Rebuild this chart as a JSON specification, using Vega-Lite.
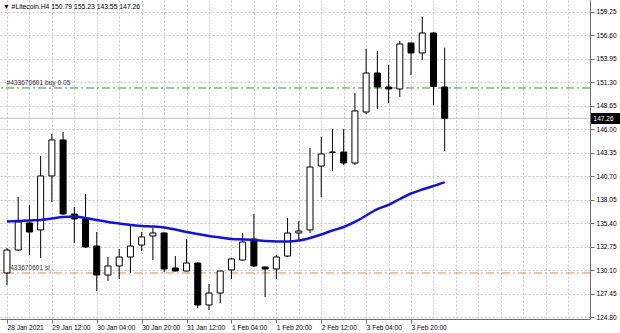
{
  "$schema": "https://vega.github.io/schema/vega-lite/v6.json",
  "width": 590,
  "height": 319,
  "autosize": "none",
  "padding": {"left": 0, "top": 0, "right": 30, "bottom": 14},
  "background": "white",
  "view": {"stroke": null},
  "title": {"text": "▼  #Litecoin.H4  150.79 155.23 143.55 147.26", "anchor": "start", "frame": "group", "offset": -11, "dx": 3, "font": "Liberation Sans", "fontSize": 6.8, "fontWeight": "normal", "color": "#000000"},
  "config": {
    "font": "Liberation Sans",
    "axis": {"labelFont": "Liberation Sans", "labelFontSize": 6.6, "labelColor": "#000000", "domainColor": "#6e6e6e", "tickColor": "#6e6e6e", "gridColor": "#c4c4c4", "gridDash": [2, 2], "gridWidth": 1, "title": null, "labelOverlap": false}
  },
  "datasets": {
    "candles": [
      {"t": "2021-01-28T20:00", "o": 129.82, "h": 132.64, "l": 128.46, "c": 132.41, "ma": 135.62},
      {"t": "2021-01-29T00:00", "o": 132.41, "h": 138.39, "l": 132.30, "c": 135.57, "ma": 135.68},
      {"t": "2021-01-29T04:00", "o": 135.46, "h": 137.49, "l": 131.85, "c": 134.44, "ma": 135.74},
      {"t": "2021-01-29T08:00", "o": 134.67, "h": 143.01, "l": 131.51, "c": 140.76, "ma": 135.79},
      {"t": "2021-01-29T12:00", "o": 140.76, "h": 145.49, "l": 137.82, "c": 144.82, "ma": 135.96},
      {"t": "2021-01-29T16:00", "o": 144.82, "h": 145.72, "l": 136.36, "c": 136.47, "ma": 136.13},
      {"t": "2021-01-29T20:00", "o": 136.47, "h": 137.26, "l": 133.20, "c": 135.91, "ma": 136.19},
      {"t": "2021-01-30T00:00", "o": 135.91, "h": 138.73, "l": 132.64, "c": 132.75, "ma": 136.02},
      {"t": "2021-01-30T04:00", "o": 132.86, "h": 134.44, "l": 127.79, "c": 129.59, "ma": 135.79},
      {"t": "2021-01-30T08:00", "o": 129.59, "h": 131.62, "l": 128.92, "c": 130.61, "ma": 135.57},
      {"t": "2021-01-30T12:00", "o": 130.61, "h": 132.52, "l": 129.14, "c": 131.62, "ma": 135.40},
      {"t": "2021-01-30T16:00", "o": 131.62, "h": 135.34, "l": 129.82, "c": 132.86, "ma": 135.23},
      {"t": "2021-01-30T20:00", "o": 132.97, "h": 134.44, "l": 132.30, "c": 133.88, "ma": 135.12},
      {"t": "2021-01-31T00:00", "o": 133.99, "h": 134.89, "l": 131.28, "c": 134.33, "ma": 135.06},
      {"t": "2021-01-31T04:00", "o": 134.33, "h": 134.40, "l": 129.93, "c": 130.27, "ma": 134.95},
      {"t": "2021-01-31T08:00", "o": 130.38, "h": 131.73, "l": 130.00, "c": 130.04, "ma": 134.72},
      {"t": "2021-01-31T12:00", "o": 130.04, "h": 133.65, "l": 129.98, "c": 130.94, "ma": 134.44},
      {"t": "2021-01-31T16:00", "o": 130.94, "h": 130.98, "l": 125.87, "c": 126.21, "ma": 134.22},
      {"t": "2021-01-31T20:00", "o": 126.21, "h": 128.58, "l": 125.64, "c": 127.56, "ma": 133.99},
      {"t": "2021-02-01T00:00", "o": 127.56, "h": 130.10, "l": 126.43, "c": 130.04, "ma": 133.82},
      {"t": "2021-02-01T04:00", "o": 130.16, "h": 131.50, "l": 129.14, "c": 131.40, "ma": 133.65},
      {"t": "2021-02-01T08:00", "o": 131.28, "h": 134.33, "l": 131.20, "c": 133.31, "ma": 133.60},
      {"t": "2021-02-01T12:00", "o": 133.65, "h": 136.47, "l": 130.50, "c": 130.61, "ma": 133.54},
      {"t": "2021-02-01T16:00", "o": 130.49, "h": 130.55, "l": 127.11, "c": 130.27, "ma": 133.43},
      {"t": "2021-02-01T20:00", "o": 130.27, "h": 131.85, "l": 129.14, "c": 131.62, "ma": 133.37},
      {"t": "2021-02-02T00:00", "o": 131.73, "h": 136.02, "l": 131.62, "c": 134.33, "ma": 133.37},
      {"t": "2021-02-02T04:00", "o": 134.33, "h": 135.68, "l": 133.54, "c": 134.55, "ma": 133.48},
      {"t": "2021-02-02T08:00", "o": 134.67, "h": 143.91, "l": 134.33, "c": 141.77, "ma": 133.77},
      {"t": "2021-02-02T12:00", "o": 141.88, "h": 145.15, "l": 138.39, "c": 143.24, "ma": 134.16},
      {"t": "2021-02-02T16:00", "o": 143.46, "h": 146.06, "l": 141.32, "c": 143.41, "ma": 134.61},
      {"t": "2021-02-02T20:00", "o": 143.46, "h": 146.06, "l": 142.00, "c": 142.22, "ma": 135.00},
      {"t": "2021-02-03T00:00", "o": 142.22, "h": 150.12, "l": 142.00, "c": 148.09, "ma": 135.57},
      {"t": "2021-02-03T04:00", "o": 147.97, "h": 155.08, "l": 147.75, "c": 152.37, "ma": 136.30},
      {"t": "2021-02-03T08:00", "o": 152.37, "h": 154.85, "l": 148.31, "c": 150.79, "ma": 137.03},
      {"t": "2021-02-03T12:00", "o": 150.79, "h": 153.27, "l": 148.99, "c": 150.57, "ma": 137.49},
      {"t": "2021-02-03T16:00", "o": 150.57, "h": 155.98, "l": 149.66, "c": 155.64, "ma": 138.16},
      {"t": "2021-02-03T20:00", "o": 155.75, "h": 155.80, "l": 152.15, "c": 154.63, "ma": 138.78},
      {"t": "2021-02-04T00:00", "o": 154.63, "h": 158.69, "l": 153.84, "c": 156.88, "ma": 139.23},
      {"t": "2021-02-04T04:00", "o": 156.88, "h": 156.95, "l": 148.76, "c": 150.85, "ma": 139.62},
      {"t": "2021-02-04T08:00", "o": 150.79, "h": 155.23, "l": 143.55, "c": 147.26, "ma": 140.07}
    ],
    "levels": [
      {"label": "#433670601 buy 0.05", "price": 150.68, "kind": "buy"},
      {"label": "#433670601 sl", "price": 129.82, "kind": "sl"}
    ],
    "bid": [{"price": 147.26, "label": "147.26"}]
  },
  "data": {"name": "candles"},
  "encoding": {
    "x": {"field": "t", "type": "temporal",
      "scale": {"domain": [{"year": 2021, "month": 1, "date": 28, "hours": 19, "minutes": 18}, {"year": 2021, "month": 2, "date": 6, "hours": 10, "minutes": 0}]}
    }
  },
  "layer": [
    {
      "data": {"name": "bid"},
      "mark": {"type": "rule", "color": "#c0c0c0", "strokeWidth": 1},
      "encoding": {"x": null, "y": {"field": "price", "type": "quantitative"}}
    },
    {
      "data": {"name": "levels"},
      "mark": {"type": "rule", "strokeWidth": 1, "strokeDash": [8, 3, 2, 3]},
      "encoding": {
        "x": null,
        "y": {"field": "price", "type": "quantitative"},
        "color": {"field": "kind", "type": "nominal", "scale": {"domain": ["buy", "sl"], "range": ["#3c8f3c", "#e0884c"]}, "legend": null}
      }
    },
    {
      "mark": {"type": "rule", "color": "#000000", "strokeWidth": 1, "clip": true},
      "encoding": {
        "y": {"field": "l", "type": "quantitative"},
        "y2": {"field": "h"}
      }
    },
    {
      "mark": {"type": "bar", "size": 6, "stroke": "#000000", "strokeWidth": 1, "clip": true},
      "encoding": {
        "y": {"field": "o", "type": "quantitative",
          "scale": {"domain": [124.63, 160.60], "nice": false, "zero": false},
          "axis": {
            "orient": "right",
            "tickCount": 200,
            "values": [124.80, 127.45, 129.82, 130.10, 132.75, 135.40, 138.05, 140.70, 143.35, 146.00, 147.26, 148.65, 150.68, 151.30, 153.95, 156.60, 159.25],
            "labelExpr": "datum.value == 150.68 ? '#433670601 buy 0.05' : (datum.value == 129.82 ? '#433670601 sl' : format(datum.value, '.2f'))",
            "tickSize": {"condition": [{"test": "datum.value == 147.26", "value": 30}, {"test": "datum.value == 150.68 || datum.value == 129.82", "value": 0}], "value": 4},
            "tickWidth": {"condition": {"test": "datum.value == 147.26", "value": 11}, "value": 1},
            "tickColor": {"condition": {"test": "datum.value == 147.26", "value": "#000000"}, "value": "#6e6e6e"},
            "tickOpacity": {"condition": {"test": "datum.value == 150.68 || datum.value == 129.82", "value": 0}, "value": 1},
            "gridOpacity": {"condition": {"test": "datum.value == 147.26 || datum.value == 150.68 || datum.value == 129.82", "value": 0}, "value": 1},
            "labelColor": {"condition": [{"test": "datum.value == 147.26", "value": "#ffffff"}, {"test": "datum.value == 150.68 || datum.value == 129.82", "value": "#333333"}], "value": "#000000"},
            "labelPadding": {"condition": [{"test": "datum.value == 147.26", "value": -27}, {"test": "datum.value == 150.68 || datum.value == 129.82", "value": -584}], "value": 2},
            "labelBaseline": {"condition": {"test": "datum.value == 150.68 || datum.value == 129.82", "value": "bottom"}, "value": "middle"},
            "labelOffset": {"condition": {"test": "datum.value == 150.68 || datum.value == 129.82", "value": -2}, "value": 0},
            "grid": true, "domain": true, "labelAlign": "left", "labelOverlap": false, "labelFlush": false, "labelBound": false
          }
        },
        "y2": {"field": "c"},
        "x": {"field": "t", "type": "temporal",
          "axis": {
            "orient": "bottom",
            "tickCount": 200,
            "values": [
              {"year": 2021, "month": 1, "date": 28, "hours": 20},
              {"year": 2021, "month": 1, "date": 29, "hours": 4},
              {"year": 2021, "month": 1, "date": 29, "hours": 12},
              {"year": 2021, "month": 1, "date": 29, "hours": 20},
              {"year": 2021, "month": 1, "date": 30, "hours": 4},
              {"year": 2021, "month": 1, "date": 30, "hours": 12},
              {"year": 2021, "month": 1, "date": 30, "hours": 20},
              {"year": 2021, "month": 1, "date": 31, "hours": 4},
              {"year": 2021, "month": 1, "date": 31, "hours": 12},
              {"year": 2021, "month": 1, "date": 31, "hours": 20},
              {"year": 2021, "month": 2, "date": 1, "hours": 4},
              {"year": 2021, "month": 2, "date": 1, "hours": 12},
              {"year": 2021, "month": 2, "date": 1, "hours": 20},
              {"year": 2021, "month": 2, "date": 2, "hours": 4},
              {"year": 2021, "month": 2, "date": 2, "hours": 12},
              {"year": 2021, "month": 2, "date": 2, "hours": 20},
              {"year": 2021, "month": 2, "date": 3, "hours": 4},
              {"year": 2021, "month": 2, "date": 3, "hours": 12},
              {"year": 2021, "month": 2, "date": 3, "hours": 20},
              {"year": 2021, "month": 2, "date": 4, "hours": 4},
              {"year": 2021, "month": 2, "date": 4, "hours": 12},
              {"year": 2021, "month": 2, "date": 4, "hours": 20},
              {"year": 2021, "month": 2, "date": 5, "hours": 4},
              {"year": 2021, "month": 2, "date": 5, "hours": 12},
              {"year": 2021, "month": 2, "date": 5, "hours": 20},
              {"year": 2021, "month": 2, "date": 6, "hours": 4}
            ],
            "grid": true,
            "domain": true,
            "tickSize": 4,
            "tickOpacity": {"condition": {"test": "round((datum.value - datetime(2021,0,28,20,0,0,0))/28800000) % 2 == 0 && datum.value <= datetime(2021,1,3,21,0,0,0)", "value": 1}, "value": 0},
            "labelExpr": "(round((datum.value - datetime(2021,0,28,20,0,0,0))/28800000) % 2 != 0 || datum.value > datetime(2021,1,3,21,0,0,0)) ? '' : (round((datum.value - datetime(2021,0,28,20,0,0,0))/28800000) == 0 ? '28 Jan 2021' : timeFormat(datum.value, '%-d %b %H:%M'))",
            "labelAlign": "left",
            "labelPadding": 1,
            "labelOverlap": false,
            "labelFlush": false,
            "labelBound": false
          }
        },
        "fill": {"condition": {"test": "datum.c >= datum.o", "value": "#ffffff"}, "value": "#000000"}
      }
    },
    {
      "mark": {"type": "line", "color": "#1414d2", "strokeWidth": 2.5, "clip": true, "interpolate": "monotone"},
      "encoding": {"y": {"field": "ma", "type": "quantitative"}}
    }
  ]
}
